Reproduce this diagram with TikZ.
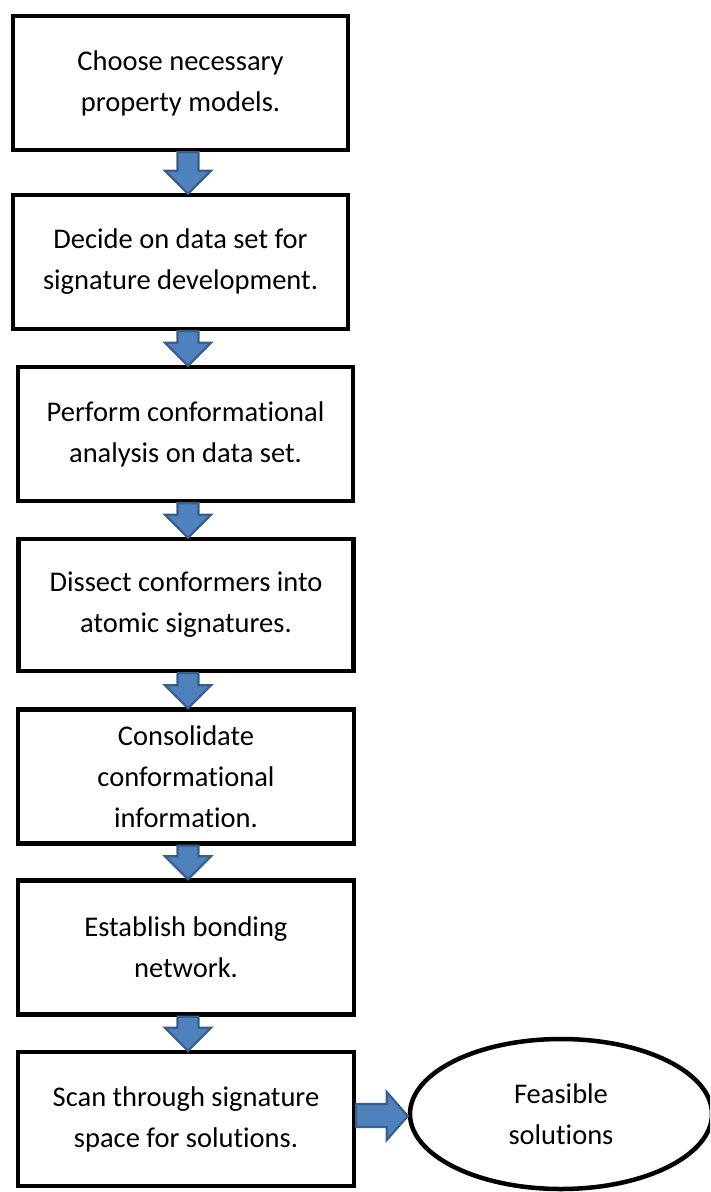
\documentclass[tikz,border=0pt]{standalone}
\usepackage{fontspec}
\setmainfont{Carlito}[Ligatures={NoCommon}]
\usetikzlibrary{calc,shapes.geometric}
\definecolor{arrowfill}{HTML}{4F81BD}
\definecolor{arrowline}{HTML}{3A5F8F}
\tikzset{
  stepbox/.style={draw=black, line width=4.5pt, fill=white, rectangle,
    minimum width=335pt, minimum height=134pt, inner sep=0pt,
    align=center, font=\fontsize{28.5}{41}\selectfont},
  endbox/.style={draw=black, line width=4.5pt, fill=white, ellipse,
    minimum width=302pt, minimum height=150pt, inner sep=0pt,
    align=center, font=\fontsize{28.5}{41}\selectfont},
  blockarrow/.style={draw=arrowline, fill=arrowfill, line width=2.2pt, line join=miter}
}
% block arrow pointing down from the bottom of #1 to the top of #2
\newcommand\downflow[2]{%
  \draw[blockarrow] let \p1=(#1.south), \p2=(#2.north) in
    (177.5pt,\y1) -- (198.5pt,\y1) -- (198.5pt,\y2+22pt) -- (211pt,\y2+22pt)
    -- (188pt,\y2-1pt) -- (165pt,\y2+22pt) -- (177.5pt,\y2+22pt) -- cycle;}
\begin{document}
\begin{tikzpicture}[x=1pt,y=-1pt]
\path[use as bounding box] (0,0) rectangle (710,1192);
\clip (0,0) rectangle (710,1192);

\node[stepbox] (b1) at (180.5,83) {Choose necessary\\property models.};
\node[stepbox] (b2) at (180.5,262) {Decide on data set for\\signature development.};
\node[stepbox] (b3) at (185.5,434) {Perform conformational\\analysis on data set.};
\node[stepbox, minimum height=132pt] (b4) at (186,605) {Dissect conformers into\\atomic signatures.};
\node[stepbox, minimum width=336pt] (b5) at (186,776.5) {Consolidate\\conformational\\information.};
\node[stepbox, minimum width=336pt] (b6) at (186,947.5) {Establish bonding\\network.};
\node[stepbox, minimum width=336pt] (b7) at (186,1119) {Scan through signature\\space for solutions.};
\node[endbox] (fs) at (561,1114) {Feasible\\solutions};

\downflow{b1}{b2}
\downflow{b2}{b3}
\downflow{b3}{b4}
\downflow{b4}{b5}
\downflow{b5}{b6}
\downflow{b6}{b7}

% sideways block arrow into the result
\draw[blockarrow] let \p1=(b7.east), \p2=(fs.west) in
  (\x1,-1104pt) -- (\x2-21pt,-1104pt) -- (\x2-21pt,-1092pt) -- (\x2,-1116pt)
  -- (\x2-21pt,-1140pt) -- (\x2-21pt,-1127pt) -- (\x1,-1127pt) -- cycle;
\end{tikzpicture}
\end{document}
